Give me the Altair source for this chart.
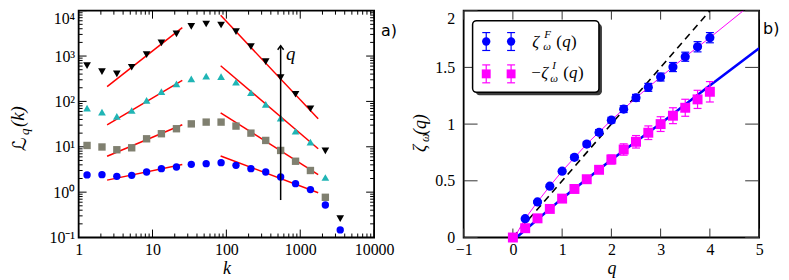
import altair as alt
import pandas as pd

# ---------------- panel a) data ----------------
k_vals = [1.30, 2.07, 3.29, 5.23, 8.32, 13.2, 21.1, 33.5, 53.3, 84.8, 135, 215,
          341, 543, 864, 1374, 2188, 3478]
L_q4 = [617, 455, 405, 567, 1077, 1944, 3069, 4520, 5090, 4840, 3450, 1615, 755,
        336, 144, 69, 8.1, 0.26]
L_q3 = [71, 58, 46.6, 63, 105, 165, 244, 314, 360, 353, 265, 155, 86, 43, 22, 12.7, 2.1]
L_q2 = [10.7, 9.9, 8.6, 9.5, 15, 19.4, 25, 32, 35, 35, 28.6, 20, 13.8, 8.3, 4.8, 3.0, 0.77]
L_q1 = [2.4, 2.43, 2.23, 2.35, 2.78, 3.3, 3.58, 4.1, 4.25, 4.47, 3.9, 3.3, 2.78, 2.16,
        1.54, 1.14, 0.52, 0.147]

fit_k_left = [2.43, 25.3]
fit_k_right = [83.7, 1750]
fit_left = {"q4": [212, 4250], "q3": [30.5, 290], "q2": [6.2, 30.5], "q1": [1.84, 4.05]}
fit_right = {"q4": [7890, 41.3], "q3": [612, 9.07], "q2": [56, 2.44], "q1": [6.28, 0.97]}

arrow_k = [543, 543]
arrow_L = [0.67, 1680]

xa_major = [1, 10, 100, 1000, 10000]
ya_major = [0.1, 1, 10, 100, 1000, 10000]
ya_labels = ["10⁻¹", "10⁰", "10¹", "10²", "10³", "10⁴"]
xa_minor = [m * 10 ** e for e in range(0, 4) for m in range(2, 10)]
ya_minor = [m * 10.0 ** e for e in range(-1, 4) for m in range(2, 10)]

# ---------------- panel b) data ----------------
q_pts = [0, 0.25, 0.5, 0.75, 1.0, 1.25, 1.5, 1.75, 2.0, 2.25, 2.5, 2.75, 3.0, 3.25, 3.5, 3.75, 4.0]
zeta_F = [0, 0.166, 0.314, 0.453, 0.585, 0.707, 0.824, 0.927, 1.035, 1.132, 1.232, 1.324,
          1.415, 1.503, 1.594, 1.682, 1.762]
err_F = [0.005, 0.01, 0.01, 0.012, 0.015, 0.02, 0.02, 0.025, 0.025, 0.03, 0.03, 0.035,
         0.035, 0.04, 0.04, 0.045, 0.045]
zeta_I = [0, 0.082, 0.169, 0.252, 0.343, 0.428, 0.514, 0.597, 0.688, 0.776, 0.844, 0.924,
          1.0, 1.074, 1.144, 1.218, 1.285]
err_I = [0.01, 0.01, 0.015, 0.015, 0.02, 0.02, 0.025, 0.03, 0.04, 0.05, 0.055, 0.06,
         0.065, 0.07, 0.075, 0.08, 0.09]
fitF_q = [0.03, 0.25, 0.5, 0.75, 1.0, 1.5, 2.0, 2.5, 3.0, 3.5, 4.0, 4.68]
fitF_z = [0, 0.166, 0.314, 0.453, 0.585, 0.824, 1.035, 1.232, 1.415, 1.594, 1.762, 2.0]
fitI_q = [0.07, 1, 2, 3, 4, 5]
fitI_z = [0, 0.345, 0.685, 1.005, 1.34, 1.668]
dash_q = [0, 4]
dash_z = [0, 2]
xb_major = [-1, 0, 1, 2, 3, 4, 5]
yb_major = [0, 0.5, 1, 1.5, 2]

W, H = 297, 228
SERIF = "Liberation Serif"
SANS = "DejaVu Sans"
one = pd.DataFrame({"d": [0]})


def txt(s, x, y, size, style="normal", font=SERIF, angle=0, align="left", baseline="alphabetic"):
    kw = dict(text=s, font=font, fontSize=size, fontStyle=style, color="black",
              align=align, baseline=baseline)
    if angle:
        kw["angle"] = angle
    return alt.Chart(one).mark_text(**kw).encode(x=alt.value(x), y=alt.value(y))


# ---------------- panel a) ----------------
xs_a = alt.Scale(type="log", domain=[1, 10000], nice=False)
ys_a = alt.Scale(type="log", domain=[0.1, 10000], nice=False)

x_axis_a = alt.Axis(values=xa_major, labelExpr="format(datum.value, 'd')", ticks=False,
                    domain=False, grid=False, labelFlush=False, labelOverlap=False,
                    labelFont=SERIF, labelFontSize=16, labelColor="black", labelPadding=4,
                    title="k", titleFont=SERIF, titleFontStyle="italic", titleFontSize=18,
                    titleFontWeight="normal", titleColor="black", titlePadding=2)
ylab_expr = "[" + ",".join("'%s'" % s for s in ya_labels) + "][round(log(datum.value)/LN10)+1]"
y_axis_a = alt.Axis(values=ya_major, labelExpr=ylab_expr, ticks=False, domain=False,
                    grid=False, labelFlush=False, labelOverlap=False, labelFont=SERIF,
                    labelFontSize=16, labelColor="black", labelPadding=4,
                    labelBaseline=alt.condition("datum.value > 5000", alt.value("top"),
                                                alt.value("middle")),
                    title="")


def XA(f="x"):
    return alt.X(f + ":Q", scale=xs_a, axis=x_axis_a)


def YA(f="y"):
    return alt.Y(f + ":Q", scale=ys_a, axis=y_axis_a)


def series_a(vals, shape, color, size):
    df = pd.DataFrame({"x": k_vals[:len(vals)], "y": vals})
    return alt.Chart(df).mark_point(shape=shape, filled=True, color=color, size=size,
                                    opacity=1).encode(x=XA(), y=YA())


def line_a(xv, yv, color="red", width=1.5):
    df = pd.DataFrame({"x": xv, "y": yv})
    return alt.Chart(df).mark_line(color=color, strokeWidth=width).encode(x=XA(), y=YA())


def xticks_a(vals, length):
    df = pd.DataFrame({"x": vals})
    b = alt.Chart(df).mark_rule(color="black", strokeWidth=1).encode(
        x=XA(), y=alt.value(H - length), y2=alt.value(H))
    t = alt.Chart(df).mark_rule(color="black", strokeWidth=1).encode(
        x=XA(), y=alt.value(0), y2=alt.value(length))
    return [b, t]


def yticks_a(vals, length):
    df = pd.DataFrame({"y": vals})
    l = alt.Chart(df).mark_rule(color="black", strokeWidth=1).encode(
        y=YA(), x=alt.value(0), x2=alt.value(length))
    r = alt.Chart(df).mark_rule(color="black", strokeWidth=1).encode(
        y=YA(), x=alt.value(W - length), x2=alt.value(W))
    return [l, r]


layers_a = []
layers_a += xticks_a(xa_major, 8) + xticks_a(xa_minor, 4)
layers_a += yticks_a(ya_major, 8) + yticks_a(ya_minor, 4)
for key in ["q1", "q2", "q3", "q4"]:
    layers_a.append(line_a(fit_k_left, fit_left[key]))
    layers_a.append(line_a(fit_k_right, fit_right[key]))
layers_a += [
    series_a(L_q1, "circle", "#0000ff", 55),
    series_a(L_q2, "square", "#808070", 55),
    series_a(L_q3, "triangle-up", "#20b5b5", 60),
    series_a(L_q4, "triangle-down", "#000000", 60),
    line_a(arrow_k, arrow_L, color="black", width=1.5),
    alt.Chart(pd.DataFrame({"x": [arrow_k[1]], "y": [arrow_L[1]]})).mark_point(
        shape="M-1,1.3L0,0L1,1.3", filled=False, color="black", strokeWidth=1.5,
        size=36, opacity=1).encode(x=XA(), y=YA()),
    alt.Chart(pd.DataFrame({"x": [640], "y": [1100], "t": ["q"]})).mark_text(
        font=SERIF, fontSize=19, fontStyle="italic", align="left", baseline="middle",
        color="black").encode(x=XA(), y=YA(), text="t:N"),
    # y title  L_q(k)
    txt("ℒ", -58.5, 141, 19, font="DejaVu Sans", angle=270, baseline="middle"),
    txt("q", -54, 125, 13, style="italic", angle=270, baseline="middle"),
    txt("(k)", -60.5, 117, 19, style="italic", angle=270, baseline="middle"),
    txt("a)", 304, 20, 16, font=SANS, baseline="middle"),
]
panel_a = alt.layer(*layers_a).properties(width=W, height=H)

# ---------------- panel b) ----------------
xs_b = alt.Scale(domain=[-1, 5], nice=False)
ys_b = alt.Scale(domain=[0, 2], nice=False)

x_axis_b = alt.Axis(values=xb_major,
                    labelExpr="datum.value < 0 ? '−' + (-datum.value) : '' + datum.value",
                    ticks=False, domain=False, grid=False, labelFlush=False,
                    labelOverlap=False, labelFont=SERIF, labelFontSize=16,
                    labelColor="black", labelPadding=4, title="q", titleFont=SERIF,
                    titleFontStyle="italic", titleFontSize=18, titleFontWeight="normal",
                    titleColor="black", titlePadding=2)
y_axis_b = alt.Axis(values=yb_major, labelExpr="'' + datum.value", ticks=False,
                    domain=False, grid=False, labelFlush=False, labelOverlap=False,
                    labelFont=SERIF, labelFontSize=16, labelColor="black", labelPadding=9,
                    labelBaseline=alt.condition("datum.value > 1.9", alt.value("top"),
                                                alt.value("middle")),
                    title="")


def XB(f="x"):
    return alt.X(f + ":Q", scale=xs_b, axis=x_axis_b)


def YB(f="y"):
    return alt.Y(f + ":Q", scale=ys_b, axis=y_axis_b)


def line_b(xv, yv, color, width, dash=None):
    df = pd.DataFrame({"x": xv, "y": yv})
    kw = dict(color=color, strokeWidth=width, clip=True)
    if dash:
        kw["strokeDash"] = dash
    return alt.Chart(df).mark_line(**kw).encode(x=XB(), y=YB())


def errbars_b(vals, errs, color):
    df = pd.DataFrame({"x": q_pts, "lo": [v - e for v, e in zip(vals, errs)],
                       "hi": [v + e for v, e in zip(vals, errs)]})
    bar = alt.Chart(df).mark_rule(color=color, strokeWidth=1.2).encode(
        x=XB(), y=YB("lo"), y2="hi:Q")
    caps = []
    for f in ["lo", "hi"]:
        caps.append(alt.Chart(df).mark_point(shape="M-1,0L1,0", filled=False, color=color,
                                             strokeWidth=1.2, size=64, opacity=1).encode(
            x=XB(), y=YB(f)))
    return [bar] + caps


def xticks_b(vals, length):
    df = pd.DataFrame({"x": vals})
    out = []
    for y0, y1 in [(H - length, H), (0, length)]:
        out.append(alt.Chart(df).mark_rule(color="#333333", strokeWidth=1).encode(
            x=XB(), y=alt.value(y0), y2=alt.value(y1)))
    return out


def yticks_b(vals, length):
    df = pd.DataFrame({"y": vals})
    out = []
    for x0, x1 in [(0, length), (W - length, W)]:
        out.append(alt.Chart(df).mark_rule(color="#333333", strokeWidth=1).encode(
            y=YB(), x=alt.value(x0), x2=alt.value(x1)))
    return out


dfF = pd.DataFrame({"x": q_pts, "y": zeta_F})
dfI = pd.DataFrame({"x": q_pts, "y": zeta_I})

layers_b = []
layers_b += xticks_b(xb_major, 9) + yticks_b(yb_major, 14)
layers_b += [
    line_b(dash_q, dash_z, "black", 1.6, dash=[7, 5]),
    line_b(fitF_q, fitF_z, "#ff00ff", 1.0),
    line_b(fitI_q, fitI_z, "#0000ff", 2.6),
]
layers_b += errbars_b(zeta_F, err_F, "#0000ff")
layers_b += errbars_b(zeta_I, err_I, "#ff00ff")
layers_b += [
    alt.Chart(dfF).mark_point(shape="circle", filled=True, color="#0000ff",
                              size=85, opacity=1).encode(x=XB(), y=YB()),
    alt.Chart(dfI).mark_point(shape="square", filled=True, color="#ff00ff",
                              size=100, opacity=1).encode(x=XB(), y=YB()),
]

# legend (hand drawn, like matplotlib's framed legend with shadow)
layers_b += [
    alt.Chart(one).mark_rect(color="#3a3a3a", cornerRadius=4).encode(
        x=alt.value(12), x2=alt.value(139), y=alt.value(13), y2=alt.value(85)),
    alt.Chart(one).mark_rect(fill="white", stroke="black", strokeWidth=1.5,
                             cornerRadius=4).encode(
        x=alt.value(9), x2=alt.value(136), y=alt.value(10), y2=alt.value(82)),
]
for ry, color, shape, size in [(31, "#0000ff", "circle", 70), (63.5, "#ff00ff", "square", 80)]:
    for mx in [22.7, 47.7]:
        layers_b += [
            alt.Chart(one).mark_rule(color=color, strokeWidth=1.2).encode(
                x=alt.value(mx), y=alt.value(ry - 9), y2=alt.value(ry + 9)),
            alt.Chart(one).mark_rule(color=color, strokeWidth=1.2).encode(
                x=alt.value(mx - 4), x2=alt.value(mx + 4), y=alt.value(ry - 9)),
            alt.Chart(one).mark_rule(color=color, strokeWidth=1.2).encode(
                x=alt.value(mx - 4), x2=alt.value(mx + 4), y=alt.value(ry + 9)),
            alt.Chart(one).mark_point(shape=shape, filled=True, color=color, size=size,
                                      opacity=1).encode(x=alt.value(mx), y=alt.value(ry)),
        ]
layers_b += [
    txt("ζ", 69, 36, 17, style="italic"),
    txt("F", 81, 27, 11, style="italic"),
    txt("ω", 80, 40, 11, style="italic"),
    txt("(", 93, 36, 17),
    txt("q", 99, 36, 17, style="italic"),
    txt(")", 108, 36, 17),
    txt("−", 68, 68, 17),
    txt("ζ", 78, 68, 17, style="italic"),
    txt("I", 89, 59, 11, style="italic"),
    txt("ω", 87, 72, 11, style="italic"),
    txt("(", 100, 68, 17),
    txt("q", 106, 68, 17, style="italic"),
    txt(")", 115, 68, 17),
    # y title  zeta_omega(q)
    txt("ζ", -43, 142, 18, style="italic", angle=270, baseline="middle"),
    txt("ω", -38.5, 132, 12, style="italic", angle=270, baseline="middle"),
    txt("(q)", -43, 125, 18, style="italic", angle=270, baseline="middle"),
    txt("b)", 301, 18, 16, font=SANS, baseline="middle"),
]
panel_b = alt.layer(*layers_b).properties(width=W, height=H)

chart = alt.hconcat(panel_a, panel_b, spacing=13).properties(
    padding={"left": 0, "top": 0, "right": 0, "bottom": 0},
    background="white",
).configure_view(stroke="black", strokeWidth=1.8).configure_concat(spacing=13)

chart.save("out.html", embed_options={"renderer": "svg", "actions": False})
